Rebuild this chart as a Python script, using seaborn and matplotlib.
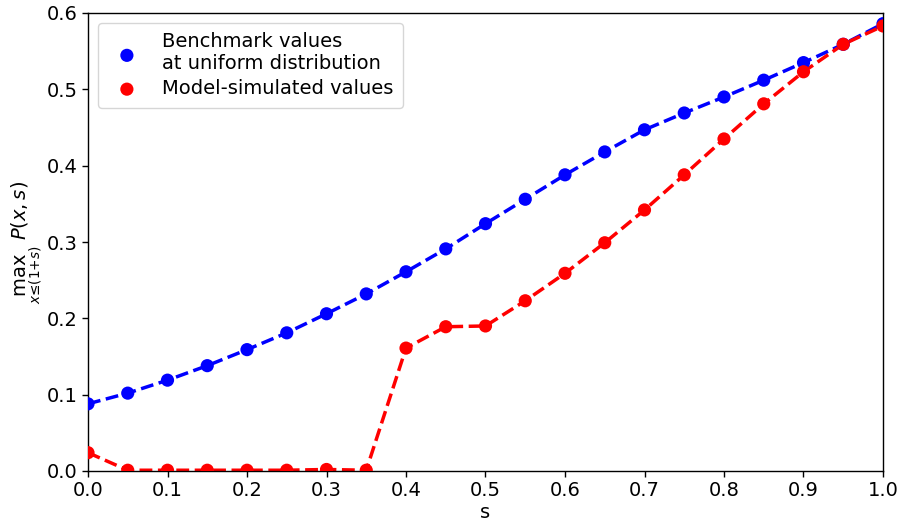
import matplotlib
matplotlib.use("Agg")
import matplotlib.pyplot as plt
import seaborn as sns
import numpy as np
import pandas as pd

s_values = [0.0, 0.05, 0.1, 0.15, 0.2, 0.25, 0.3, 0.35, 0.4, 0.45, 0.5,
            0.55, 0.6, 0.65, 0.7, 0.75, 0.8, 0.85, 0.9, 0.95, 1.0]
benchmark = [0.088, 0.102, 0.119, 0.138, 0.159, 0.181, 0.206, 0.232, 0.261, 0.291, 0.324,
             0.356, 0.388, 0.418, 0.447, 0.469, 0.490, 0.512, 0.535, 0.559, 0.586]
model = [0.024, 0.001, 0.001, 0.001, 0.001, 0.001, 0.002, 0.001, 0.161, 0.189, 0.190,
         0.223, 0.259, 0.299, 0.342, 0.388, 0.435, 0.481, 0.523, 0.559, 0.583]
label_bench = "Benchmark values\nat uniform distribution"
label_model = "Model-simulated values"

sns.set_style("ticks")
plt.rcParams['font.family'] = ['DejaVu Sans']
plt.rcParams['text.color'] = 'black'
plt.rcParams['axes.labelcolor'] = 'black'

fig = plt.figure(figsize=(9, 5.22), dpi=100)
ax = fig.add_axes([88/900, 1-471/522, (883-88)/900, (471-13)/522])

df_b = pd.DataFrame({"s": s_values, "v": benchmark})
df_m = pd.DataFrame({"s": s_values, "v": model})

sns.scatterplot(data=df_b, x="s", y="v", color="blue", s=90, edgecolor="none",
                label=label_bench, ax=ax, zorder=3)
sns.scatterplot(data=df_m, x="s", y="v", color="red", s=90, edgecolor="none",
                label=label_model, ax=ax, zorder=3)
sns.lineplot(data=df_b, x="s", y="v", color="blue", linestyle="--", linewidth=2.5,
             ax=ax, legend=False, zorder=2)
sns.lineplot(data=df_m, x="s", y="v", color="red", linestyle="--", linewidth=2.5,
             ax=ax, legend=False, zorder=2)

ax.set_xlim(0, 1.0)
ax.set_ylim(0, 0.6)
ax.set_xticks(np.arange(0, 1.01, 0.1))
ax.set_yticks(np.arange(0, 0.61, 0.1))
ax.tick_params(labelsize=14, direction="out", length=4, width=1, colors="black")
for sp in ax.spines.values():
    sp.set_color("black")
    sp.set_linewidth(1)
ax.set_xlabel("s", fontsize=14, labelpad=2)
ax.set_ylabel(r"$\max_{x\leq(1+s)}\ P(x,s)$", fontsize=14, labelpad=2)

leg = ax.legend(loc="upper left", fontsize=14, frameon=True, borderpad=0.5,
                handletextpad=0.8, labelspacing=0.3, markerscale=1.0)
leg.get_frame().set_edgecolor("#cccccc")

fig.savefig("out.png", dpi=100)
